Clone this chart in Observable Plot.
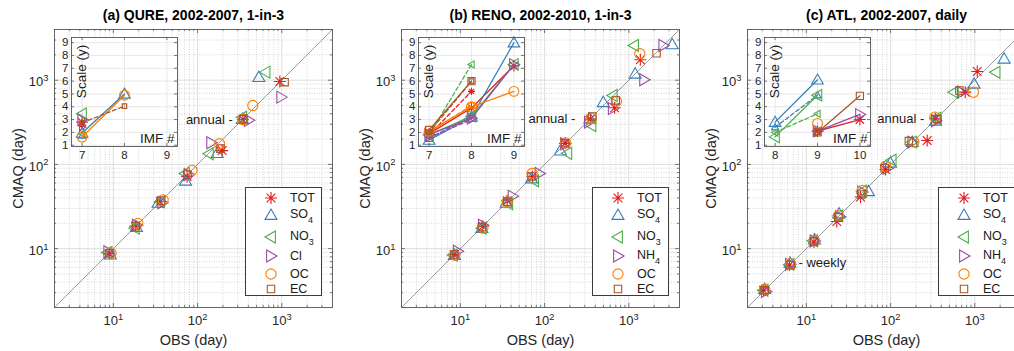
<!DOCTYPE html>
<html><head><meta charset="utf-8">
<script src="https://cdn.jsdelivr.net/npm/d3@7"></script>
<script src="https://cdn.jsdelivr.net/npm/@observablehq/plot@0.6"></script>
<style>
body{margin:0;background:#fff;}
#root{position:relative;width:1014px;height:351px;overflow:hidden;font-family:"Liberation Sans",Arial,Helvetica,sans-serif;}
.legend{position:absolute;background:#fff;border:1px solid #3c3c3c;box-sizing:border-box;}
.legend .lab{position:absolute;font-size:12.5px;line-height:14px;color:#1a1a1a;white-space:nowrap;}
.legend .sb{font-size:9px;position:relative;top:5px;}
</style></head><body><div id="root"></div>
<script>
// ---------------- data ----------------
const speciesA = ["TOT","SO4","NO3","Cl","OC","EC"];
const speciesBC = ["TOT","SO4","NO3","NH4","OC","EC"];
const colors = ["#e41a1c","#377eb8","#4daf4a","#984ea3","#ff7f00","#a65628"];
const shapes = ["asterisk","up","left","right","circle","square"];
const axisRange = [2, 4000];
const majorTicks = [10, 100, 1000];

// (a) QURE: OBS and CMAQ periods (days), rows follow speciesA
const qureObs = [
  [9.0, 18.3, 36, 75, 196, 345, 948],
  [9.2, 18.8, 34, 72, 171, 340, 534],
  [8.5, 18.0, 36, 71, 136, 339, 641],
  [8.7, 19.0, 38, 78, 145, 407, 985],
  [9.4, 19.5, 39, 86, 182, 345, 453],
  [9.0, 18.5, 37, 76, 187, 350, 1079]
];
const qureCmaq = [
  [8.7, 18.5, 36, 72, 146, 342, 966],
  [8.5, 18.0, 35, 64, 136, 345, 1087],
  [9.0, 17.5, 36, 78, 134, 364, 1247],
  [9.2, 19.0, 35, 76, 181, 335, 630],
  [8.9, 20.0, 38, 85, 176, 342, 501],
  [8.8, 18.5, 37, 76, 154, 345, 948]
];
// (b) RENO
const renoObs = [
  [8.4, 18.5, 36, 72, 175, 350, 678, 1370],
  [8.5, 18.0, 35, 70, 154, 345, 498, 1190, 3280],
  [8.2, 18.0, 37, 75, 186, 360, 645, 1155],
  [9.3, 18.5, 41.7, 87, 175, 336, 645, 1520, 2567],
  [8.6, 18.5, 36, 71, 178, 360, 715, 1352],
  [8.5, 18.0, 36, 70, 175, 368, 700, 2136]
];
const renoCmaq = [
  [8.5, 18.5, 37, 72, 178, 345, 471, 1750],
  [8.4, 17.5, 35, 68, 146, 350, 548, 1194, 2660],
  [8.4, 17.5, 34, 64, 136, 290, 659, 2588],
  [9.3, 19.0, 42, 78, 176, 318, 460, 1014, 2588],
  [8.4, 17.5, 36, 78, 180, 355, 563, 2061],
  [8.5, 18.0, 36, 72, 178, 371, 575, 2090]
];
// (c) ATL
const atlObs = [
  [3.1, 6.3, 12.3, 23, 44, 87, 272, 340, 770, 1069],
  [3.2, 6.4, 12.5, 24.5, 54.6, 99.5, 181, 342, 980, 2230],
  [3.1, 6.3, 12.0, 24, 46, 103, 181, 350, 565, 1765],
  [3.3, 6.4, 12.5, 25, 46, 92, 181, 345, 700],
  [3.2, 6.5, 12.5, 24, 46, 87, 189, 335, 965],
  [3.2, 6.5, 12.3, 24, 45, 85, 165, 360, 655]
];
const atlCmaq = [
  [3.2, 6.4, 12.0, 21, 41, 87, 192, 350, 721, 1270],
  [3.3, 6.8, 12.8, 26, 48, 104.7, 184, 330, 908, 1800],
  [3.2, 6.5, 12.4, 24.5, 48, 112, 184, 355, 721, 1245],
  [3.1, 6.5, 12.3, 24, 47, 90, 184, 330, 721],
  [3.3, 6.6, 12.4, 24.5, 49, 95, 184, 364, 721],
  [3.2, 6.4, 12.2, 23.5, 44, 90, 189, 345, 755]
];

// insets: scale (y) of IMF #, CMAQ (solid) and OBS (dashed), rows follow species lists
const qureImf = [7, 8];
const qureImfTicks = [7, 8, 9];
const qureInsetCmaq = [[2.8, null],[1.95, 5.0],[3.45, null],[3.0, null],[1.64, 4.9],[null, null]];
const qureInsetObs  = [[2.6, null],[1.75, null],[1.9, null],[2.4, null],[null, null],[2.75, 4.05]];
const renoImf = [7, 8, 9];
const renoImfTicks = [7, 8, 9];
const renoInsetCmaq = [[1.9, 3.9, 7.2],[1.4, 3.2, 9.0],[1.8, 3.25, 7.3],[1.85, 3.1, 7.3],[2.1, 4.0, 5.2],[2.2, 6.0, null]];
const renoInsetObs  = [[1.8, 5.2, null],[1.5, 3.35, null],[1.8, 7.3, null],[1.6, 3.0, null],[2.0, 4.1, null],[2.0, 6.0, null]];
const atlImf = [8, 9, 10];
const atlImfTicks = [8, 9, 10];
const atlInsetCmaq = [[null, 2.1, 3.0],[2.8, 6.1, null],[1.65, 4.9, null],[null, 2.1, 3.4],[null, 2.7, null],[null, 2.0, 4.85]];
const atlInsetObs  = [[null, 2.2, null],[2.4, 4.9, null],[2.0, 3.45, null],[null, 2.0, null],[null, null, null],[null, 2.0, null]];
const scaleTicks = [1,2,3,4,5,6,7,8,9];

// ---------------- drawing ----------------
const FONT = "'Liberation Sans', Arial, Helvetica, sans-serif";
const S = 278, T = 29;
const root = document.getElementById("root");

function symbolOf(kind){
  return {draw(ctx, size){
    const r = Math.sqrt(size / Math.PI);
    if (kind === "asterisk"){ const d = r*0.72;
      ctx.moveTo(-r,0); ctx.lineTo(r,0); ctx.moveTo(0,-r); ctx.lineTo(0,r);
      ctx.moveTo(-d,-d); ctx.lineTo(d,d); ctx.moveTo(-d,d); ctx.lineTo(d,-d); }
    else if (kind === "up"){ ctx.moveTo(0,-r); ctx.lineTo(r,0.73*r); ctx.lineTo(-r,0.73*r); ctx.closePath(); }
    else if (kind === "left"){ ctx.moveTo(-r,0); ctx.lineTo(0.73*r,-r); ctx.lineTo(0.73*r,r); ctx.closePath(); }
    else if (kind === "right"){ ctx.moveTo(r,0); ctx.lineTo(-0.73*r,-r); ctx.lineTo(-0.73*r,r); ctx.closePath(); }
    else if (kind === "circle"){ const c = 0.85*r; ctx.moveTo(c,0); ctx.arc(0,0,c,0,2*Math.PI); }
    else { const h = 0.62*r; ctx.rect(-h,-h,2*h,2*h); }
  }};
}

function supTicks(svg){
  d3.select(svg).selectAll("text").each(function(){
    const m = /^10\^(\d+)$/.exec(this.textContent);
    if (m){ const t = d3.select(this); t.text(null);
      t.append("tspan").text("10");
      t.append("tspan").attr("dy","-0.55em").attr("font-size","0.72em").text(m[1]); }
  });
}

function minorVals(){
  const out = [];
  for (let e = 0; e <= 3; e++) for (let m = 2; m <= 9; m++){ const v = m*10**e; if (v > axisRange[0] && v < axisRange[1]) out.push(v); }
  return out;
}

function mainPanel(p){
  const minor = minorVals();
  const marks = [
    Plot.ruleX(minor, {x: d=>d, stroke:"#bcbcbc", strokeWidth:0.6, strokeDasharray:"1,1.5"}),
    Plot.ruleY(minor, {y: d=>d, stroke:"#bcbcbc", strokeWidth:0.6, strokeDasharray:"1,1.5"}),
    Plot.ruleX(majorTicks, {x: d=>d, stroke:"#d6d6d6", strokeWidth:0.8}),
    Plot.ruleY(majorTicks, {y: d=>d, stroke:"#d6d6d6", strokeWidth:0.8}),
    Plot.line(axisRange.map(v=>({v})), {x:"v", y:"v", stroke:"#707070", strokeWidth:0.7})
  ];
  p.species.forEach((s,k)=>{
    const pts = p.obs[k].map((o,i)=>({o, c:p.cmaq[k][i]}));
    marks.push(Plot.dot(pts, {x:"o", y:"c", symbol:symbolOf(shapes[k]), r:6, stroke:colors[k], fill:"none", strokeWidth:1.1}));
  });
  const tk = (vals, len) => [
    Plot.tickX(vals, {x:d=>d, insetTop:S-len, stroke:"#444", strokeWidth:0.7}),
    Plot.tickX(vals, {x:d=>d, insetBottom:S-len, stroke:"#444", strokeWidth:0.7}),
    Plot.tickY(vals, {y:d=>d, insetRight:S-len, stroke:"#444", strokeWidth:0.7}),
    Plot.tickY(vals, {y:d=>d, insetLeft:S-len, stroke:"#444", strokeWidth:0.7})
  ];
  const fmt = d => "10^" + Math.round(Math.log10(d));
  marks.push(...tk(minor, 2), ...tk(majorTicks, 4),
    Plot.frame({stroke:"#555", strokeWidth:0.9}),
    Plot.axisX(majorTicks, {anchor:"bottom", tickSize:0, tickPadding:8, tickFormat:fmt, fontSize:13, label:null, fill:"#262626"}),
    Plot.axisY(majorTicks, {anchor:"left", tickSize:0, tickPadding:6, dy:2, tickFormat:fmt, fontSize:13, label:null, fill:"#262626"}),
    Plot.text([p.title], {frameAnchor:"top", dy:-14, lineAnchor:"middle", textAnchor:"middle", fontWeight:"bold", fontSize:14, fill:"#000"}),
    Plot.text(["OBS (day)"], {frameAnchor:"bottom", dy:33, lineAnchor:"middle", textAnchor:"middle", fontSize:14.5, fill:"#262626"}),
    Plot.text(["CMAQ (day)"], {frameAnchor:"left", dx:-36, rotate:-90, lineAnchor:"middle", textAnchor:"middle", fontSize:14.5, fill:"#262626"}),
    Plot.text([{x:p.obs[0][p.annualIdx], y:p.cmaq[0][p.annualIdx]}], {x:"x", y:"y", text:()=>"annual -", textAnchor:"end", dx:p.annualDx, fontSize:13, fill:"#1a1a1a"})
  );
  if (p.weeklyIdx != null)
    marks.push(Plot.text([{x:p.obs[0][p.weeklyIdx], y:p.cmaq[0][p.weeklyIdx]}], {x:"x", y:"y", text:()=>"- weekly", textAnchor:"start", dx:p.weeklyDx, dy:-2, fontSize:13, fill:"#1a1a1a"}));
  const svg = Plot.plot({
    width: 54 + S + 14, height: 351, marginLeft: 54, marginRight: 14, marginTop: T, marginBottom: 351 - T - S,
    x: {type:"log", domain: axisRange}, y: {type:"log", domain: axisRange},
    style: {fontFamily: FONT, background: "transparent", overflow: "visible"},
    marks
  });
  supTicks(svg);
  svg.style.position = "absolute"; svg.style.left = (p.L - 54) + "px"; svg.style.top = "0px";
  root.appendChild(svg);
}

function insetPanel(p){
  const W = 106, H = 109, ml = 16, mt = 6, mr = 4, mb = 18;
  const xdom = [p.ticks[0] - 0.25, p.ticks[p.ticks.length-1] + 0.25];
  const marks = [
    Plot.frame({fill:"white", stroke:"none"}),
    Plot.ruleX(p.ticks, {x:d=>d, stroke:"#e2e2e2", strokeWidth:0.8}),
    Plot.ruleY(scaleTicks, {y:d=>d, stroke:"#e2e2e2", strokeWidth:0.8})
  ];
  p.species.forEach((s,k)=>{
    const c = p.imf.map((m,i)=>({m, v:p.iC[k][i]}));
    const o = p.imf.map((m,i)=>({m, v:p.iO[k][i]}));
    marks.push(
      Plot.line(o, {x:"m", y:"v", stroke:colors[k], strokeWidth:1.3, strokeDasharray:"4,2.5"}),
      Plot.line(c, {x:"m", y:"v", stroke:colors[k], strokeWidth:1.3}),
      Plot.dot(o.filter(d=>d.v!=null), {x:"m", y:"v", symbol:symbolOf(shapes[k]), r:3.6, stroke:colors[k], fill:"none", strokeWidth:1.1}),
      Plot.dot(c.filter(d=>d.v!=null), {x:"m", y:"v", symbol:symbolOf(shapes[k]), r:5.8, stroke:colors[k], fill:"none", strokeWidth:1.1})
    );
  });
  marks.push(
    Plot.tickX(p.ticks, {x:d=>d, insetTop:H-3, stroke:"#444", strokeWidth:0.7}),
    Plot.tickX(p.ticks, {x:d=>d, insetBottom:H-3, stroke:"#444", strokeWidth:0.7}),
    Plot.tickY(scaleTicks, {y:d=>d, insetRight:W-3, stroke:"#444", strokeWidth:0.7}),
    Plot.tickY(scaleTicks, {y:d=>d, insetLeft:W-3, stroke:"#444", strokeWidth:0.7}),
    Plot.frame({stroke:"#555", strokeWidth:0.9}),
    Plot.axisX(p.ticks, {anchor:"bottom", tickSize:0, tickPadding:4, fontSize:11.5, label:null, fill:"#262626"}),
    Plot.axisY(scaleTicks, {anchor:"left", tickSize:0, tickPadding:3, fontSize:11.5, label:null, fill:"#262626"}),
    Plot.text(["Scale (y)"], {frameAnchor:"top-left", dx:10, dy:34, rotate:-90, textAnchor:"middle", lineAnchor:"middle", fontSize:13.5, fill:"#1a1a1a"}),
    Plot.text(["IMF #"], {frameAnchor:"bottom-right", dx:-3, dy:-8, textAnchor:"end", lineAnchor:"middle", fontSize:13.5, fill:"#1a1a1a"})
  );
  const svg = Plot.plot({
    width: ml + W + mr, height: mt + H + mb, marginLeft: ml, marginRight: mr, marginTop: mt, marginBottom: mb,
    x: {domain: xdom}, y: {domain: [0.9, 9.4]},
    style: {fontFamily: FONT, background: "transparent", overflow: "visible"},
    marks
  });
  svg.style.position = "absolute"; svg.style.left = (p.L + 17 - ml) + "px"; svg.style.top = (37 - mt) + "px";
  root.appendChild(svg);
}

const labelHtml = {TOT:"TOT", SO4:'SO<span class="sb">4</span>', NO3:'NO<span class="sb">3</span>', NH4:'NH<span class="sb">4</span>', Cl:"Cl", OC:"OC", EC:"EC"};
const legendRows = [10, 27, 49, 68, 86, 101];
function legendPanel(p){
  const div = document.createElement("div");
  div.className = "legend";
  Object.assign(div.style, {left:(p.L + S - 87)+"px", top:"187px", width:"77px", height:"109px"});
  p.species.forEach((s,k)=>{
    const cy = legendRows[k];
    const svg = d3.create("svg").attr("width",16).attr("height",16)
      .style("position","absolute").style("left","17px").style("top",(cy-8)+"px");
    const path = d3.path(); symbolOf(shapes[k]).draw(path, 36*Math.PI);
    svg.append("path").attr("transform","translate(8,8)").attr("d", path.toString())
      .attr("fill","none").attr("stroke",colors[k]).attr("stroke-width",1.1);
    div.appendChild(svg.node());
    const lab = document.createElement("div"); lab.className = "lab";
    lab.innerHTML = labelHtml[s];
    Object.assign(lab.style, {left:"44px", top:(cy - 7 - (/\d/.test(s)?1:0))+"px"});
    div.appendChild(lab);
  });
  root.appendChild(div);
}

const panels = [
  {L:54, title:"(a) QURE, 2002-2007, 1-in-3", species:speciesA, obs:qureObs, cmaq:qureCmaq, imf:qureImf, ticks:qureImfTicks, iC:qureInsetCmaq, iO:qureInsetObs, annualIdx:5, annualDx:-10},
  {L:401, title:"(b) RENO, 2002-2010, 1-in-3", species:speciesBC, obs:renoObs, cmaq:renoCmaq, imf:renoImf, ticks:renoImfTicks, iC:renoInsetCmaq, iO:renoInsetObs, annualIdx:5, annualDx:-15},
  {L:747, title:"(c) ATL, 2002-2007, daily", species:speciesBC, obs:atlObs, cmaq:atlCmaq, imf:atlImf, ticks:atlImfTicks, iC:atlInsetCmaq, iO:atlInsetObs, annualIdx:7, annualDx:-11, weeklyIdx:1, weeklyDx:9}
];
panels.forEach(p=>{ mainPanel(p); insetPanel(p); legendPanel(p); });
</script></body></html>
